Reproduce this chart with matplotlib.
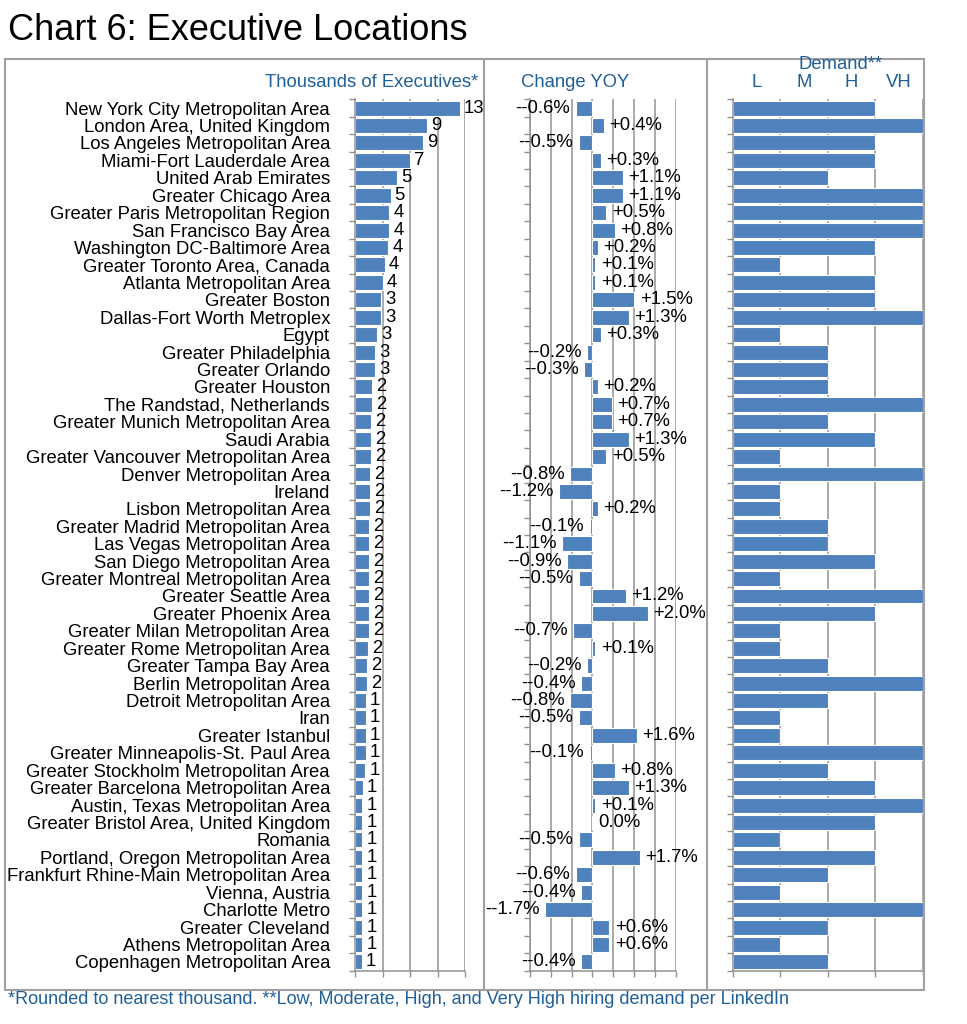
import numpy as np
import matplotlib
matplotlib.use("Agg")
import matplotlib.pyplot as plt
from matplotlib.patches import Rectangle
from matplotlib.lines import Line2D
from matplotlib.transforms import blended_transform_factory

plt.rcParams['font.family'] = ['Liberation Sans', 'DejaVu Sans']

categories = [
    "New York City Metropolitan Area", "London Area, United Kingdom", "Los Angeles Metropolitan Area",
    "Miami-Fort Lauderdale Area", "United Arab Emirates", "Greater Chicago Area",
    "Greater Paris Metropolitan Region", "San Francisco Bay Area", "Washington DC-Baltimore Area",
    "Greater Toronto Area, Canada", "Atlanta Metropolitan Area", "Greater Boston",
    "Dallas-Fort Worth Metroplex", "Egypt", "Greater Philadelphia", "Greater Orlando",
    "Greater Houston", "The Randstad, Netherlands", "Greater Munich Metropolitan Area",
    "Saudi Arabia", "Greater Vancouver Metropolitan Area", "Denver Metropolitan Area",
    "Ireland", "Lisbon Metropolitan Area", "Greater Madrid Metropolitan Area",
    "Las Vegas Metropolitan Area", "San Diego Metropolitan Area", "Greater Montreal Metropolitan Area",
    "Greater Seattle Area", "Greater Phoenix Area", "Greater Milan Metropolitan Area",
    "Greater Rome Metropolitan Area", "Greater Tampa Bay Area", "Berlin Metropolitan Area",
    "Detroit Metropolitan Area", "Iran", "Greater Istanbul", "Greater Minneapolis-St. Paul Area",
    "Greater Stockholm Metropolitan Area", "Greater Barcelona Metropolitan Area",
    "Austin, Texas Metropolitan Area", "Greater Bristol Area, United Kingdom", "Romania",
    "Portland, Oregon Metropolitan Area", "Frankfurt Rhine-Main Metropolitan Area",
    "Vienna, Austria", "Charlotte Metro", "Greater Cleveland", "Athens Metropolitan Area",
    "Copenhagen Metropolitan Area",
]

# thousands of executives
executives = [13.3, 9.1, 8.7, 7.0, 5.4, 4.52, 4.35, 4.35, 4.2, 3.8,
              3.52, 3.36, 3.27, 2.8, 2.6, 2.52, 2.2, 2.2, 2.08, 1.99,
              1.99, 1.95, 1.86, 1.86, 1.78, 1.73, 1.73, 1.73, 1.73, 1.73,
              1.73, 1.65, 1.55, 1.52, 1.35, 1.35, 1.35, 1.35, 1.3, 1.0,
              0.92, 0.92, 0.92, 0.92, 0.92, 0.92, 0.92, 0.92, 0.92, 0.88]

# change year over year, percent
change_yoy = [-0.6, 0.4, -0.5, 0.3, 1.1, 1.1, 0.5, 0.8, 0.2, 0.1,
              0.1, 1.5, 1.3, 0.3, -0.2, -0.3, 0.2, 0.7, 0.7, 1.3,
              0.5, -0.8, -1.2, 0.2, -0.1, -1.1, -0.9, -0.5, 1.2, 2.0,
              -0.7, 0.1, -0.2, -0.4, -0.8, -0.5, 1.6, -0.1, 0.8, 1.3,
              0.1, 0.0, -0.5, 1.7, -0.6, -0.4, -1.7, 0.6, 0.6, -0.4]

demand = ["H", "VH", "H", "H", "M", "VH", "VH", "VH", "H", "L",
          "H", "H", "VH", "L", "M", "M", "M", "VH", "M", "H",
          "L", "VH", "L", "L", "M", "M", "H", "L", "VH", "H",
          "L", "L", "M", "VH", "M", "L", "L", "VH", "M", "H",
          "VH", "H", "L", "H", "M", "L", "VH", "M", "L", "M"]
demand_levels = ["L", "M", "H", "VH"]

W, H = 967, 1024
fig = plt.figure(figsize=(W / 100, H / 100), dpi=100)

BAR = '#4F81BD'
GRID = '#929292'
BLUE = '#1f5f99'
FS = 13.3

n = len(categories)
y = np.arange(n)
bottom = 1 - 970.7 / H
height = (970.7 - 99.3) / H


def fx(px):
    return px / W


def fy(py):
    return 1 - py / H


def style(ax, xticks):
    ax.set_ylim(n - 0.5, -0.5)
    ax.set_xticks(xticks)
    ax.set_xlim(xticks[0], xticks[-1])
    ax.tick_params(axis='x', labelbottom=False, length=4, width=1.0, color=GRID, direction='out')
    ax.set_yticks(np.arange(-0.5, n, 1), minor=True)
    ax.tick_params(axis='y', which='minor', length=4, width=1.0, color=GRID, direction='out')
    ax.tick_params(axis='y', which='major', length=0)
    for s in ['top', 'right']:
        ax.spines[s].set_visible(False)
    for s in ['left', 'bottom']:
        ax.spines[s].set_color(GRID)
        ax.spines[s].set_linewidth(1.1)
    ax.grid(axis='x', color=GRID, linewidth=1.1)
    ax.set_axisbelow(True)
    ax.patch.set_alpha(0)


# Left panel: thousands of executives
ax1 = fig.add_axes([fx(355), bottom, fx(465) - fx(355), height])
ax1.barh(y, executives, height=0.86, color=BAR, edgecolor='white', linewidth=0.8, zorder=2)
style(ax1, [0, 3.5, 7, 10.5, 14])
ax1.set_yticks(y)
ax1.set_yticklabels(categories, fontsize=FS)
ax1.tick_params(axis='y', which='major', pad=18)
for yi, v in zip(y, executives):
    lab = str(int(np.floor(v + 0.5)))
    ax1.annotate(lab, (v, yi), xytext=(3, 0), textcoords='offset points',
                 ha='left', va='center', fontsize=FS, annotation_clip=False)

# Middle panel: change YOY
ax2 = fig.add_axes([fx(530), bottom, fx(675.7) - fx(530), height])
ax2.barh(y, change_yoy, height=0.86, color=BAR, edgecolor='white', linewidth=0.8, zorder=2)
style(ax2, [-2.25, -1.5, -0.75, 0, 0.75, 1.5, 2.25, 3.0])
ax2.set_yticks(y)
ax2.set_yticklabels([])
for yi, v in zip(y, change_yoy):
    if v > 0:
        lab, ha, off = f"+{v:.1f}%", 'left', 4
    elif v < 0:
        lab, ha, off = f"-{v:.1f}%", 'right', -4
    else:
        lab, ha, off = f"{v:.1f}%", 'left', 4
    ax2.annotate(lab, (v, yi), xytext=(off, 0), textcoords='offset points',
                 ha=ha, va='center', fontsize=FS, annotation_clip=False)

# Right panel: demand
ax3 = fig.add_axes([fx(733), bottom, fx(922.7) - fx(733), height])
dvals = [demand_levels.index(d) + 1 for d in demand]
ax3.barh(y, dvals, height=0.86, color=BAR, edgecolor='white', linewidth=0.8, zorder=2)
style(ax3, [0, 1, 2, 3, 4])
ax3.set_yticks(y)
ax3.set_yticklabels([])

# Headers
fig.text(fx(478), fy(86.7), "Thousands of Executives*", ha='right', va='baseline',
         fontsize=FS, color=BLUE)
fig.text(fx(521), fy(87), "Change YOY", ha='left', va='baseline', fontsize=FS, color=BLUE)
fig.text(fx(840), fy(69), "Demand**", ha='center', va='baseline', fontsize=FS, color=BLUE)
tr = blended_transform_factory(ax3.transData, fig.transFigure)
for i, lv in enumerate(demand_levels):
    fig.text(i + 0.5, fy(86.7), lv, ha='center', va='baseline', fontsize=FS, color=BLUE,
             transform=tr)

# Title and footnote
fig.text(fx(8), fy(40), "Chart 6: Executive Locations", ha='left', va='baseline', fontsize=26)
fig.text(fx(8), fy(1004), "*Rounded to nearest thousand. **Low, Moderate, High, and Very High "
         "hiring demand per LinkedIn", ha='left', va='baseline', fontsize=13, color=BLUE)

# Frame and dividers
FRAME = '#a0a0a0'
fig.add_artist(Rectangle((fx(5), fy(990)), fx(924) - fx(5), fy(59) - fy(990),
                         transform=fig.transFigure, fill=False, ec=FRAME, lw=1.5))
for xp in (484, 707):
    fig.add_artist(Line2D([fx(xp), fx(xp)], [fy(59), fy(990)], transform=fig.transFigure,
                          color=FRAME, lw=1.5))

fig.savefig("out.png", dpi=100)
